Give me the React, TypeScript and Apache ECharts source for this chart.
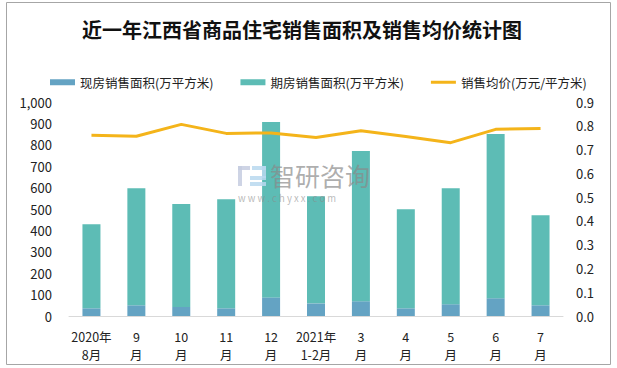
import React, { useEffect, useRef } from "react";
import * as echarts from "echarts";

const categories = [
  "2020年\n8月", "9\n月", "10\n月", "11\n月", "12\n月", "2021年\n1-2月",
  "3\n月", "4\n月", "5\n月", "6\n月", "7\n月",
];
const existingArea = [36, 50, 42, 36, 87, 59, 69, 36, 55, 83, 50];
const futureArea = [393, 547, 481, 510, 819, 501, 702, 463, 542, 767, 421];
const avgPrice = [0.76, 0.756, 0.806, 0.768, 0.77, 0.751, 0.779, 0.755, 0.729, 0.785, 0.789];
const seriesNames = ["现房销售面积(万平方米)", "期房销售面积(万平方米)", "销售均价(万元/平方米)"];
const titleText = "近一年江西省商品住宅销售面积及销售均价统计图";

const FONT = "'Noto Sans CJK SC', 'Liberation Sans', sans-serif";

export default function App() {
  const ref = useRef<HTMLDivElement>(null);
  useEffect(() => {
    if (!ref.current) return;
    const chart = echarts.init(ref.current, null, { renderer: "svg" });
    const wm = (el: any) => ({ ...el, z: 100, zlevel: 0, silent: true });
    chart.setOption({
      animation: false,
      backgroundColor: "#fff",
      textStyle: { fontFamily: FONT },
      title: {
        text: titleText,
        left: 77,
        top: 14,
        textStyle: { fontSize: 20, fontWeight: "bold", color: "#111", fontFamily: FONT },
      },
      legend: {
        left: 45,
        top: 71,
        itemWidth: 25,
        itemHeight: 6,
        itemGap: 27,
        textStyle: { fontSize: 12.5, color: "#222", fontFamily: FONT },
        data: [
          { name: seriesNames[0], icon: "rect" },
          { name: seriesNames[1], icon: "rect" },
          { name: seriesNames[2], icon: "path://M0,0L25,0L25,3L0,3Z" },
        ],
      },
      grid: { left: 69, right: 54, top: 102, bottom: 52 },
      xAxis: {
        type: "category",
        data: categories,
        axisLine: { lineStyle: { color: "#d9d9d9", width: 1 } },
        axisTick: { show: false },
        axisLabel: { interval: 0, fontSize: 12.5, color: "#222", lineHeight: 18, margin: 11, fontFamily: FONT },
      },
      yAxis: [
        {
          type: "value",
          min: 0,
          max: 1000,
          interval: 100,
          axisLine: { show: false },
          axisTick: { show: false },
          splitLine: { show: false },
          axisLabel: {
            fontSize: 13,
            color: "#222",
            margin: 17,
            fontFamily: FONT,
            formatter: (v: number) => v.toLocaleString("en-US"),
          },
        },
        {
          type: "value",
          min: 0,
          max: 0.9,
          interval: 0.1,
          axisLine: { show: false },
          axisTick: { show: false },
          splitLine: { show: false },
          axisLabel: {
            fontSize: 13,
            color: "#222",
            margin: 13,
            fontFamily: FONT,
            formatter: (v: number) => v.toFixed(1),
          },
        },
      ],
      series: [
        {
          name: seriesNames[0],
          type: "bar",
          stack: "area",
          barWidth: 18,
          data: existingArea,
          itemStyle: { color: "#64A3C3" },
        },
        {
          name: seriesNames[1],
          type: "bar",
          stack: "area",
          barWidth: 18,
          data: futureArea,
          itemStyle: { color: "#5DBCB5" },
        },
        {
          name: seriesNames[2],
          type: "line",
          yAxisIndex: 1,
          data: avgPrice,
          showSymbol: false,
          symbol: "none",
          lineStyle: { color: "#F4B41A", width: 3 },
          itemStyle: { color: "#F4B41A" },
          z: 5,
        },
      ],
      graphic: [
        {
          type: "rect",
          shape: { x: 6.5, y: 2.5, width: 604, height: 362 },
          style: { fill: "none", stroke: "#a6a6a6", lineWidth: 1 },
          silent: true,
        },
        wm({ type: "rect", shape: { x: 238, y: 166, width: 12, height: 4 }, style: { fill: "#c5cde0", opacity: 0.85 } }),
        wm({ type: "rect", shape: { x: 238, y: 166, width: 4, height: 20 }, style: { fill: "#c5cde0", opacity: 0.85 } }),
        wm({ type: "rect", shape: { x: 252, y: 166, width: 14, height: 4 }, style: { fill: "#b8d8ee", opacity: 0.85 } }),
        wm({ type: "rect", shape: { x: 262, y: 166, width: 4, height: 12 }, style: { fill: "#b8d8ee", opacity: 0.85 } }),
        wm({ type: "rect", shape: { x: 250, y: 176, width: 16, height: 4 }, style: { fill: "#b8d8ee", opacity: 0.85 } }),
        wm({ type: "rect", shape: { x: 250, y: 182, width: 16, height: 4 }, style: { fill: "#b8d8ee", opacity: 0.85 } }),
        wm({
          type: "text",
          x: 270,
          y: 162,
          style: { text: "智研咨询", fontSize: 25, fill: "#8a8a8a", opacity: 0.7, fontFamily: FONT },
        }),
        wm({
          type: "text",
          x: 238,
          y: 193,
          style: { text: "w w w . c h y x x . c o m", fontSize: 9.5, fill: "#8a8a8a", opacity: 0.6, fontFamily: FONT },
        }),
      ],
    });
    return () => chart.dispose();
  }, []);
  return (
    <div
      ref={ref}
      style={{ position: "fixed", left: 0, top: 0, width: 617, height: 368 }}
    />
  );
}
